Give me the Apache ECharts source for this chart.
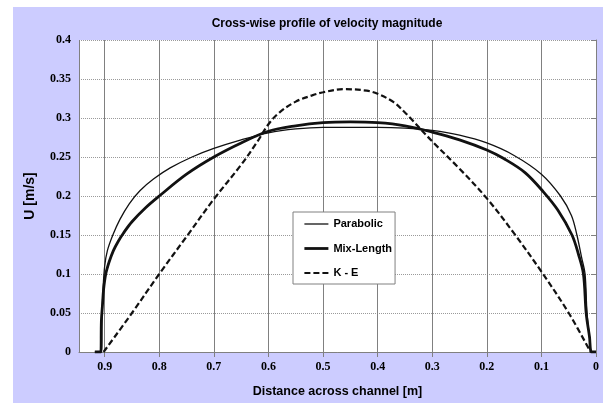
<!DOCTYPE html>
<html>
<head>
<meta charset="utf-8">
<script src="https://cdn.jsdelivr.net/npm/echarts@6/dist/echarts.min.js"></script>
<style>
  html, body { margin: 0; padding: 0; background: #ffffff; }
  #wrap { position: relative; width: 603px; height: 403px; overflow: hidden; }
  #panel { position: absolute; left: 13px; top: 7px; right: 0; bottom: 0; background: #ccccff; }
  #chart { position: absolute; left: 0; top: 0; width: 603px; height: 403px; }
</style>
</head>
<body>
<div id="wrap">
  <div id="panel"></div>
  <div id="chart"></div>
</div>
<script>
// Distance across the channel [m] and velocity magnitude U [m/s] for each model
const xParabolic = [0.918, 0.906, 0.905, 0.903, 0.900, 0.895, 0.885, 0.872, 0.855, 0.835, 0.810, 0.780, 0.740, 0.700, 0.650, 0.600, 0.550, 0.500, 0.450, 0.400, 0.350, 0.300, 0.250, 0.200, 0.150, 0.100, 0.065, 0.045, 0.035, 0.026, 0.020, 0.0165, 0.012, 0.008, 0];
const uParabolic = [0, 0, 0.040, 0.080, 0.110, 0.130, 0.150, 0.170, 0.190, 0.207, 0.222, 0.236, 0.250, 0.261, 0.272, 0.281, 0.286, 0.288, 0.288, 0.288, 0.287, 0.284, 0.278, 0.268, 0.252, 0.228, 0.200, 0.175, 0.150, 0.120, 0.100, 0.050, 0.020, 0, 0];

const xMixLength = [0.918, 0.907, 0.906, 0.904, 0.902, 0.898, 0.892, 0.884, 0.875, 0.866, 0.850, 0.825, 0.800, 0.750, 0.700, 0.650, 0.600, 0.550, 0.500, 0.450, 0.400, 0.350, 0.300, 0.250, 0.200, 0.169, 0.130, 0.096, 0.070, 0.044, 0.032, 0.023, 0.018, 0.012, 0.008, 0];
const uMixLength = [0, 0, 0.040, 0.060, 0.080, 0.100, 0.115, 0.130, 0.142, 0.152, 0.167, 0.185, 0.200, 0.228, 0.250, 0.268, 0.283, 0.290, 0.294, 0.295, 0.294, 0.290, 0.282, 0.272, 0.259, 0.248, 0.230, 0.205, 0.182, 0.150, 0.125, 0.100, 0.050, 0.020, 0, 0];

const xKE = [0.902, 0.850, 0.800, 0.750, 0.700, 0.650, 0.620, 0.600, 0.580, 0.550, 0.520, 0.500, 0.460, 0.420, 0.400, 0.370, 0.350, 0.340, 0.300, 0.250, 0.200, 0.150, 0.100, 0.050, 0.010];
const uKE = [0, 0.050, 0.100, 0.148, 0.196, 0.240, 0.270, 0.292, 0.307, 0.321, 0.329, 0.333, 0.337, 0.335, 0.331, 0.320, 0.307, 0.300, 0.270, 0.235, 0.197, 0.152, 0.103, 0.050, 0];

const seriesNames = ['Parabolic', 'Mix-Length', 'K - E'];
const titleText = 'Cross-wise profile of velocity magnitude';
const xAxisTitle = 'Distance across channel [m]';
const yAxisTitle = 'U [m/s]';

const pairs = (xs, us) => xs.map((x, i) => [x, us[i]]);

// Line styles shared by the curves and their legend samples
const styles = [
  { color: '#111', width: 1.3, type: 'solid' },
  { color: '#111', width: 2.8, type: 'solid' },
  { color: '#111', width: 2.2, type: [6, 3] }
];

const serifLabel = { fontFamily: 'Liberation Serif', fontWeight: 'bold', fontSize: 12, color: '#000' };
const sansBold = { fontFamily: 'Liberation Sans', fontWeight: 'bold', color: '#000' };

const chart = echarts.init(document.getElementById('chart'), null, { renderer: 'canvas' });

chart.setOption({
  backgroundColor: 'transparent',
  animation: false,
  title: {
    text: titleText,
    left: 322,
    top: 13,
    textAlign: 'center',
    textStyle: Object.assign({}, sansBold, { fontSize: 12 })
  },
  legend: {
    orient: 'vertical',
    left: 293,
    top: 212,
    padding: [5, 3, 4, 10],
    itemGap: 10.5,
    itemWidth: 24,
    itemHeight: 14,
    backgroundColor: '#ffffff',
    borderColor: '#808080',
    borderWidth: 1,
    borderRadius: 0,
    itemStyle: { opacity: 0 },
    textStyle: Object.assign({}, sansBold, { fontSize: 11, lineHeight: 14 }),
    data: seriesNames.map((name, i) => ({
      name: name,
      itemStyle: { opacity: 0 },
      lineStyle: Object.assign({}, styles[i])
    }))
  },
  grid: {
    left: 79,
    right: 7,
    top: 40,
    bottom: 50,
    show: true,
    backgroundColor: '#ffffff',
    borderWidth: 0
  },
  xAxis: {
    type: 'value',
    inverse: true,
    min: 0,
    max: 0.947,
    interval: 0.1,
    name: xAxisTitle,
    nameLocation: 'middle',
    nameGap: 33,
    nameTextStyle: Object.assign({}, sansBold, { fontSize: 12.5 }),
    axisLine: { show: true, onZero: false, lineStyle: { color: '#808080', width: 1 } },
    axisTick: { show: true, inside: false, length: 5, lineStyle: { color: '#808080' } },
    axisLabel: Object.assign({}, serifLabel, {
      margin: 9,
      showMaxLabel: false,
      formatter: v => (Math.abs(v * 10 - Math.round(v * 10)) < 1e-6 ? String(Math.round(v * 10) / 10) : '')
    }),
    splitLine: { show: true, lineStyle: { color: '#808080', width: 1, type: 'solid' } }
  },
  yAxis: {
    type: 'value',
    min: 0,
    max: 0.4,
    interval: 0.05,
    name: yAxisTitle,
    nameLocation: 'middle',
    nameGap: 42,
    nameRotate: 90,
    nameTextStyle: Object.assign({}, sansBold, { fontSize: 14 }),
    axisLine: { show: true, lineStyle: { color: '#808080', width: 1 } },
    axisTick: { show: true, inside: false, length: 5, lineStyle: { color: '#808080' } },
    axisLabel: Object.assign({}, serifLabel, {
      margin: 8,
      formatter: v => String(Math.round(v * 100) / 100)
    }),
    splitLine: { show: true, lineStyle: { color: '#9a9a9a', width: 1, type: [1, 1] } }
  },
  series: [
    {
      name: seriesNames[0],
      type: 'line',
      data: pairs(xParabolic, uParabolic),
      symbol: 'none',
      smooth: 0.35,
      lineStyle: styles[0],
      itemStyle: { color: '#111' },
      z: 3
    },
    {
      name: seriesNames[1],
      type: 'line',
      data: pairs(xMixLength, uMixLength),
      symbol: 'none',
      smooth: 0.35,
      lineStyle: styles[1],
      itemStyle: { color: '#111' },
      z: 4
    },
    {
      name: seriesNames[2],
      type: 'line',
      data: pairs(xKE, uKE),
      symbol: 'none',
      smooth: 0.35,
      lineStyle: styles[2],
      itemStyle: { color: '#111' },
      z: 2
    }
  ]
});
</script>
</body>
</html>
